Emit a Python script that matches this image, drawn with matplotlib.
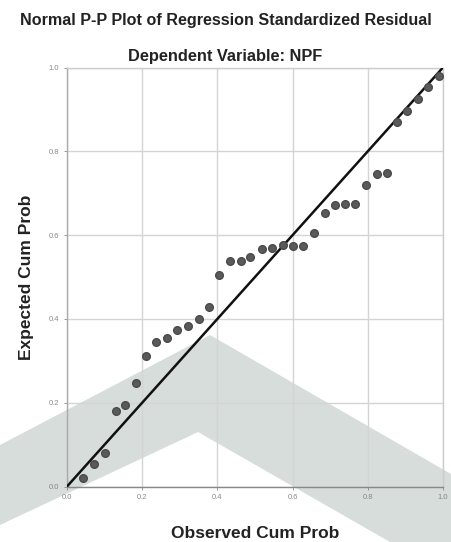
import matplotlib
matplotlib.use("Agg")
import matplotlib.pyplot as plt
from matplotlib.patches import Polygon

plt.rcParams['font.family'] = ['Liberation Sans', 'DejaVu Sans']

title = "Normal P-P Plot of Regression Standardized Residual"
subtitle = "Dependent Variable: NPF"
xlabel = "Observed Cum Prob"
ylabel = "Expected Cum Prob"
ticks = [0.0, 0.2, 0.4, 0.6, 0.8, 1.0]
tick_labels = ["0.0", "0.2", "0.4", "0.6", "0.8", "1.0"]

observed = [0.043, 0.072, 0.102, 0.129, 0.155, 0.183, 0.210, 0.238, 0.265,
            0.293, 0.322, 0.352, 0.378, 0.405, 0.434, 0.462, 0.488, 0.519,
            0.545, 0.574, 0.602, 0.628, 0.657, 0.685, 0.714, 0.740, 0.767,
            0.795, 0.824, 0.850, 0.877, 0.903, 0.934, 0.961, 0.990]
expected = [0.020, 0.054, 0.079, 0.179, 0.194, 0.248, 0.311, 0.345, 0.354,
            0.373, 0.383, 0.399, 0.429, 0.505, 0.537, 0.539, 0.548, 0.566,
            0.570, 0.576, 0.575, 0.575, 0.604, 0.652, 0.673, 0.674, 0.674,
            0.719, 0.747, 0.749, 0.871, 0.895, 0.926, 0.954, 0.980]
ref_line = [0.0, 1.0]

W, H = 451, 542
fig = plt.figure(figsize=(W / 100, H / 100), dpi=100)

# watermark chevron (behind the transparent axes)
pts = [(0, 445), (210, 335), (451, 474), (451, 542), (390, 542), (198, 432), (0, 525)]
poly = Polygon([(x / W, 1 - y / H) for x, y in pts], closed=True,
               transform=fig.transFigure, facecolor='#d6dddb',
               edgecolor='none', zorder=-5)
fig.patches.append(poly)

ax = fig.add_axes([67 / W, (H - 486.5) / H, (443 - 67) / W, (486.5 - 67.5) / H])
ax.set_zorder(1)
ax.patch.set_alpha(0)

ax.set_xlim(0, 1)
ax.set_ylim(0, 1)
ax.set_xticks(ticks)
ax.set_yticks(ticks)
ax.set_xticklabels(tick_labels)
ax.set_yticklabels(tick_labels)
ax.tick_params(labelsize=5.5, colors='#888888', length=2, width=0.6)
ax.grid(True, color='#d4d4d4', lw=1)
ax.set_axisbelow(True)
for s in ax.spines.values():
    s.set_color('#cccccc')
    s.set_linewidth(1)
ax.spines['left'].set_color('#aaaaaa')
ax.spines['bottom'].set_color('#888888')

ax.plot(ref_line, ref_line, color='#111111', lw=1.8, zorder=3)
ax.plot(observed, expected, 'o', color='#5a5a5a', mec='#4a4a4a', ms=5.5, zorder=4)

ax.set_xlabel(xlabel, fontsize=12.5, fontweight='bold', color='#222222', labelpad=18)
ax.set_ylabel(ylabel, fontsize=12.5, fontweight='bold', color='#222222', labelpad=11)

fig.text(0.5, 1 - 20 / H, title, ha='center', va='center', fontsize=11.6,
         fontweight='bold', color='#222222')
fig.text(0.5, 1 - 57 / H, subtitle, ha='center', va='center', fontsize=11.8,
         fontweight='bold', color='#222222')

fig.savefig('out.png', dpi=100)
